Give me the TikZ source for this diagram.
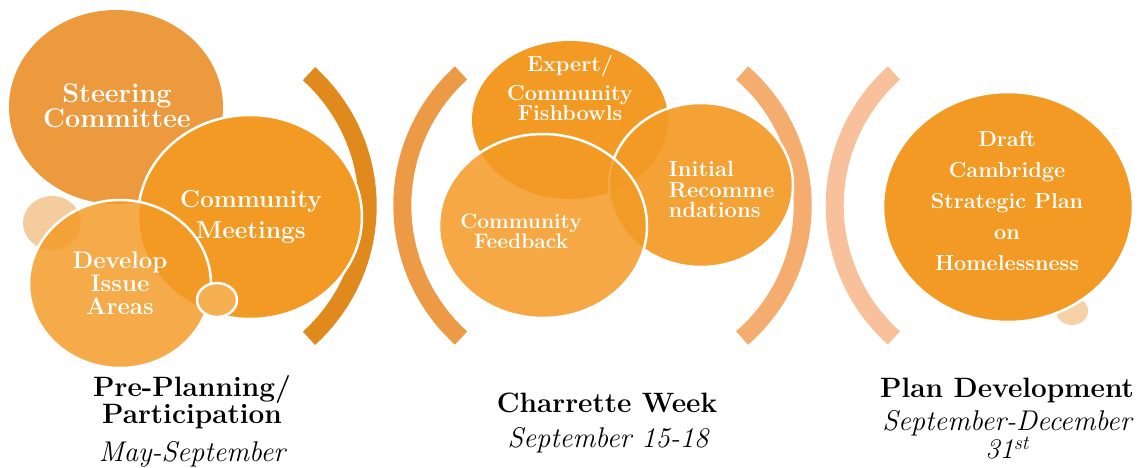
\documentclass[tikz,border=0pt]{standalone}
\definecolor{stageorange}{HTML}{F39A24}
\definecolor{steerorange}{HTML}{EC9A3D}
\definecolor{bracketone}{HTML}{E08A1E}
\definecolor{brackettwo}{HTML}{EC9A45}
\definecolor{bracketthree}{HTML}{F4AD6E}
\definecolor{bracketfour}{HTML}{F8C19B}
\begin{document}
\begin{tikzpicture}[x=1pt,y=-1pt,
    rim/.style={draw=white,line width=2.5pt},
    bracket/.style={line width=18pt},
    bubble/.style={text=white,align=center,inner sep=0pt},
    phase/.style={align=center,inner sep=0pt,font=\bfseries\fontsize{28}{27}\selectfont},
    period/.style={align=center,inner sep=0pt,font=\itshape\fontsize{28.5}{23}\selectfont}]
\useasboundingbox (0,0) rectangle (1145,468);
% brackets
\draw[bracket,bracketone] (189.4,206) ++(-47.9:178.3) arc[start angle=-47.9,end angle=47.9,radius=178.3];
\draw[bracket,brackettwo] (581.2,205.5) ++(132.2:178.9) arc[start angle=132.2,end angle=227.8,radius=178.9];
\draw[bracket,bracketthree] (627.7,205.5) ++(-49.2:175) arc[start angle=-49.2,end angle=49.2,radius=175];
\draw[bracket,bracketfour] (1012.4,205.5) ++(131.8:177.7) arc[start angle=131.8,end angle=228.2,radius=177.7];
% pre-planning
\fill[steerorange] (116,107) ellipse [x radius=107,y radius=97];
\fill[steerorange,opacity=.5] (52,223) ellipse [x radius=29,y radius=27];
\filldraw[rim,fill=stageorange] (250,217) ellipse [x radius=112,y radius=102];
\filldraw[rim,fill=stageorange,fill opacity=.83] (120,284) ellipse [x radius=91,y radius=84];
\filldraw[rim,fill=stageorange!80!white] (217,300) ellipse [x radius=20,y radius=17];
% charrette week
\fill[stageorange] (570,120) ellipse [x radius=98,y radius=79];
\filldraw[rim,fill=stageorange,fill opacity=.92] (701,185) ellipse [x radius=92,y radius=82];
\filldraw[rim,fill=stageorange,fill opacity=.86] (543,226) ellipse [x radius=104,y radius=92];
% plan development
\fill[steerorange,opacity=.45] (1072,311) ellipse [x radius=16,y radius=14];
\filldraw[rim,fill=stageorange] (1008,207) ellipse [x radius=125,y radius=115];
% texts in the circles
\node[bubble,font=\bfseries\fontsize{27}{24}\selectfont] (steering) at (117,106) {Steering\\Committee};
\node[bubble,font=\bfseries\fontsize{24.5}{31}\selectfont] (meetings) at (251,217) {Community\\Meetings};
\node[bubble,font=\bfseries\fontsize{24}{23}\selectfont] (develop) at (120,283) {Develop\\Issue\\Areas};
\node[bubble,font=\bfseries\fontsize{21.7}{20}\selectfont] (fishbowls) at (570,88) {Expert/\\[8pt]Community\\Fishbowls};
\node[bubble,font=\bfseries\fontsize{21}{20}\selectfont] (feedback) at (521,231) {Community\\Feedback};
\node[bubble,align=left,font=\bfseries\fontsize{22}{20.5}\selectfont] (initial) at (721.5,189.5) {Initial\\Recomme\\ndations};
\node[bubble,font=\bfseries\fontsize{21.7}{31}\selectfont] (draft) at (1007,201) {Draft\\Cambridge\\Strategic Plan\\on\\Homelessness};
% phase labels
\node[phase] (preplanning) at (192,402.5) {Pre-Planning/\\Participation};
\node[period] (mayperiod) at (192,454.5) {May-September};
\node[phase] (charrette) at (607,403.3) {Charrette Week};
\node[period] (charretteperiod) at (608,440.5) {September 15-18};
\node[phase] (plandev) at (1007,390) {Plan Development};
\node[period] (planperiod) at (1007,435) {September-December\\31\textsuperscript{st}};
\end{tikzpicture}
\end{document}
